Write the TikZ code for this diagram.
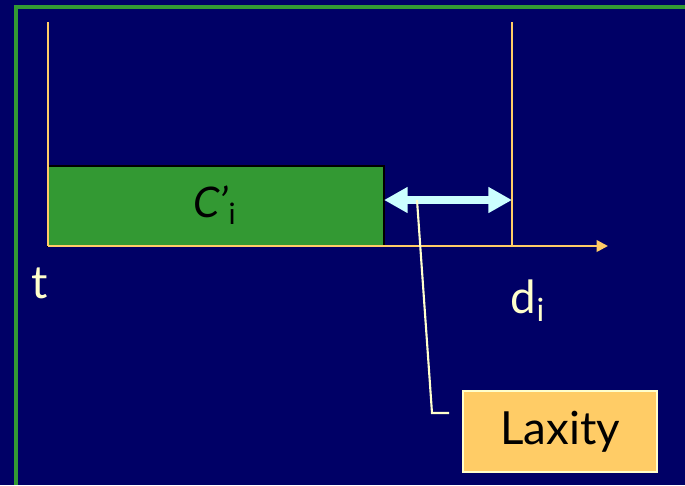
\documentclass[tikz,border=0pt]{standalone}
\usepackage{fontspec}
\setmainfont{Lato}
\usetikzlibrary{arrows.meta}

\definecolor{slidebg}{HTML}{000066}
\definecolor{framegreen}{HTML}{339933}
\definecolor{axisorange}{HTML}{FFCC66}
\definecolor{pale}{HTML}{FFFFCC}
\definecolor{arrowcyan}{HTML}{CCFFFF}

\tikzset{
  timeline/.style={axisorange, line width=1.4pt},
  jobbox/.style={fill=framegreen, draw=black, line width=1.1pt},
  laxarrow/.style={arrowcyan, line width=4.6pt, {Triangle[length=13.5pt,width=14pt]}-{Triangle[length=13.5pt,width=14pt]}},
  leader/.style={pale, line width=1.2pt},
  callout/.style={fill=axisorange, draw=pale, line width=1.4pt, minimum width=3.88cm, minimum height=1.62cm},
  bigtext/.style={font=\fontsize{26}{30}\selectfont},
}

\begin{document}
\begin{tikzpicture}[x=0.02cm, y=-0.02cm]
  % slide background and frame
  \fill[slidebg] (0,0) rectangle (685,485);
  \useasboundingbox (0,0) rectangle (685,485);
  \draw[framegreen, line width=2pt] (16,485) -- (16,7) -- (685,7);

  % time points
  \coordinate (t0)   at (48,246);
  \coordinate (ttop) at (48,22);
  \coordinate (d)    at (512,246);
  \coordinate (dtop) at (512,22);
  \coordinate (tend) at (608,246);

  % remaining computation
  \coordinate (cend) at (384,166);
  \fill[jobbox] (t0) rectangle (cend);
  \node[bigtext, font=\fontsize{24}{28}\selectfont\itshape] (c) at (215,205) {C'\textsubscript{\upshape i}};

  % axis and bounds
  \draw[timeline] (ttop) -- (t0);
  \draw[timeline] (dtop) -- (d);
  \draw[timeline, -{Triangle[length=6.5pt,width=6.5pt]}] (t0) -- (tend);

  \node[bigtext, pale] (t) at (40,283) {t};
  \node[bigtext, pale] (dlabel) at (528,301) {d\textsubscript{i}};

  % laxity interval
  \coordinate (lstart) at (384,200);
  \coordinate (lend)   at (512,200);
  \draw[laxarrow] (lstart) -- (lend);

  % callout
  \node[callout, bigtext] (lax) at (560,431.5) {Laxity};
  \coordinate (lmid)  at (417,200);
  \coordinate (bend)  at (432,413);
  \coordinate (lfoot) at (449,413);
  \draw[leader] (lmid) -- (bend) -- (lfoot);
\end{tikzpicture}
\end{document}
